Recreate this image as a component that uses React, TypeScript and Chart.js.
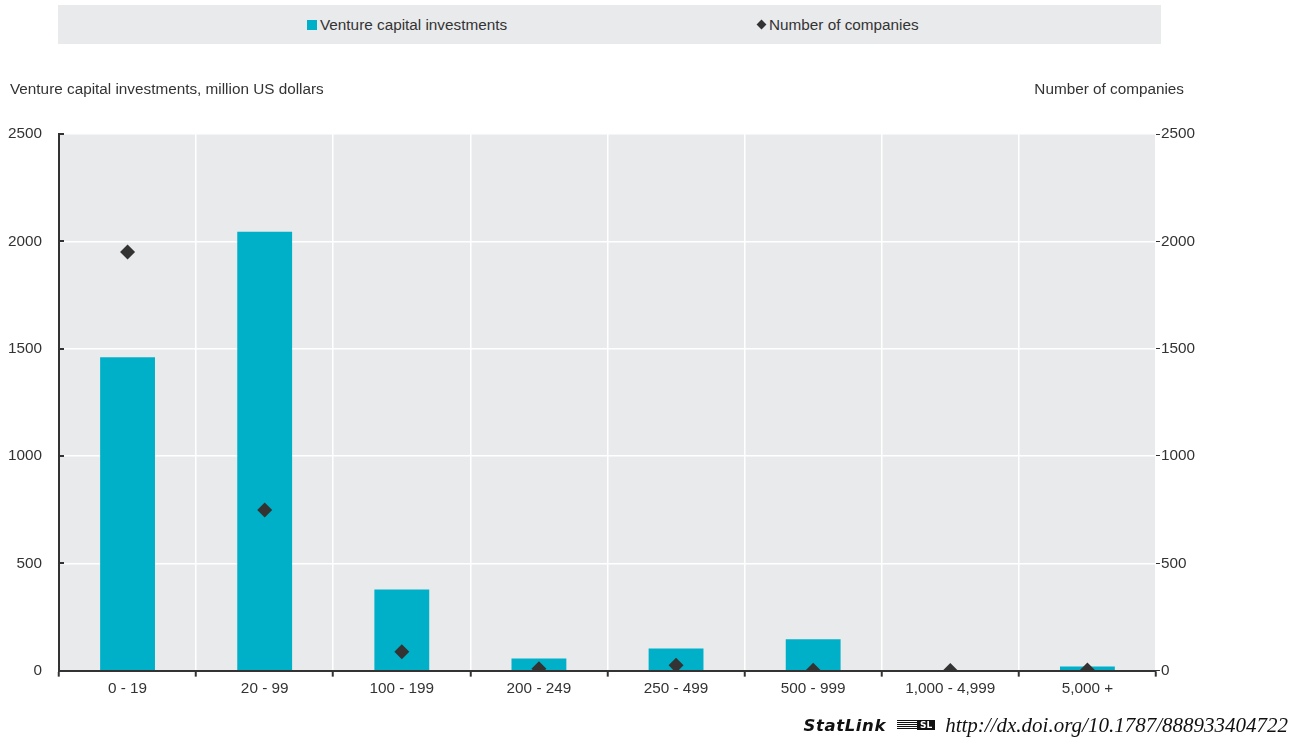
import React, { useEffect, useRef } from 'react';
import { Chart, registerables } from 'chart.js';

Chart.register(...registerables);

const categories = ['0 - 19', '20 - 99', '100 - 199', '200 - 249', '250 - 499', '500 - 999', '1,000 - 4,999', '5,000 +'];
const vcInvestments = [1460, 2045, 378, 57, 103, 146, 0, 19];
const numCompanies = [1950, 748, 88, 9, 25, 2, 1, 3];
const axisMax = 2500;
const axisStep = 500;

const legendLabels = ['Venture capital investments', 'Number of companies'];
const leftTitle = 'Venture capital investments, million US dollars';
const rightTitle = 'Number of companies';
const statlinkUrl = 'http://dx.doi.org/10.1787/888933404722';

const FONT = "'Liberation Sans', Arial, sans-serif";
const TEAL = '#00b0c8';
const DARK = '#333333';
const PLOT_BG = '#e9eaec';
const TEXT = '#333333';
const FS = 15.3;

const plotBackground = {
  id: 'plotBackground',
  beforeDraw(chart: any) {
    const { ctx, chartArea } = chart;
    ctx.save();
    ctx.fillStyle = PLOT_BG;
    ctx.fillRect(chartArea.left, chartArea.top, chartArea.right - chartArea.left, chartArea.bottom - chartArea.top);
    ctx.restore();
  },
};

// short inward tick marks on the left value axis
const innerTicks = {
  id: 'innerTicks',
  afterDraw(chart: any) {
    const scale = chart.scales.y;
    if (!scale) return;
    const { ctx } = chart;
    ctx.save();
    ctx.strokeStyle = DARK;
    ctx.lineWidth = 2;
    scale.ticks.forEach((t: any) => {
      if (t.value === 0) return;
      const y = Math.round(scale.getPixelForValue(t.value));
      ctx.beginPath();
      ctx.moveTo(scale.right, y);
      ctx.lineTo(scale.right + 5, y);
      ctx.stroke();
    });
    ctx.restore();
  },
};

const plainTick = (v: any) => String(v);

export default function App() {
  const canvasRef = useRef<HTMLCanvasElement | null>(null);

  useEffect(() => {
    document.body.style.margin = '0';
    const canvas = canvasRef.current;
    if (!canvas) return;
    const chart = new Chart(canvas, {
      type: 'bar',
      data: {
        labels: categories,
        datasets: [
          {
            type: 'line',
            label: legendLabels[1],
            data: numCompanies,
            yAxisID: 'y1',
            showLine: false,
            pointStyle: 'rectRot',
            pointRadius: 7.5,
            pointHoverRadius: 7.5,
            pointBackgroundColor: DARK,
            pointBorderColor: DARK,
            pointBorderWidth: 0,
            backgroundColor: DARK,
            borderColor: DARK,
            order: 0,
          } as any,
          {
            type: 'bar',
            label: legendLabels[0],
            data: vcInvestments,
            yAxisID: 'y',
            backgroundColor: TEAL,
            borderWidth: 0,
            barPercentage: 0.4,
            categoryPercentage: 1,
            order: 1,
          },
        ],
      },
      options: {
        responsive: true,
        maintainAspectRatio: false,
        animation: false,
        layout: { padding: { top: 134, left: 8, right: 108, bottom: 38 } },
        plugins: {
          legend: { display: false },
          tooltip: { enabled: false },
        },
        scales: {
          x: {
            offset: true,
            grid: {
              offset: true,
              color: '#ffffff',
              lineWidth: 1.5,
              drawTicks: true,
              tickLength: 6,
              tickColor: DARK,
              tickWidth: 2,
            },
            border: { display: true, color: DARK, width: 2 },
            ticks: { color: TEXT, font: { family: FONT, size: FS }, padding: 3, maxRotation: 0, autoSkip: false },
          },
          y: {
            position: 'left',
            min: 0,
            max: axisMax,
            afterFit: (scale: any) => { scale.width = 51; },
            grid: { color: '#ffffff', lineWidth: 1.5, drawTicks: false },
            border: { display: true, color: DARK, width: 2 },
            ticks: { stepSize: axisStep, color: TEXT, font: { family: FONT, size: FS }, padding: 17, callback: plainTick },
          },
          y1: {
            position: 'right',
            min: 0,
            max: axisMax,
            grid: { drawOnChartArea: false, drawTicks: true, tickLength: 4, tickColor: DARK, tickWidth: 1 },
            border: { display: false },
            ticks: { stepSize: axisStep, color: TEXT, font: { family: FONT, size: FS }, padding: 1, callback: plainTick },
          },
        },
      },
      plugins: [plotBackground, innerTicks],
    });
    return () => chart.destroy();
  }, []);

  const textStyle: React.CSSProperties = { fontFamily: FONT, fontSize: FS, color: TEXT, whiteSpace: 'nowrap' };

  return (
    <div style={{ position: 'relative', width: 1304, height: 739, background: '#fff', overflow: 'hidden' }}>
      <canvas ref={canvasRef} />
      <div style={{ position: 'absolute', left: 58, top: 5, width: 1103, height: 39, background: PLOT_BG }}>
        <div style={{ ...textStyle, position: 'absolute', left: 249, top: 0, height: 39, display: 'flex', alignItems: 'center' }}>
          <span style={{ display: 'inline-block', width: 10, height: 10, background: TEAL, marginRight: 3 }} />
          <span>{legendLabels[0]}</span>
        </div>
        <div style={{ ...textStyle, position: 'absolute', left: 699, top: 0, height: 39, display: 'flex', alignItems: 'center' }}>
          <span style={{ display: 'inline-block', width: 7, height: 7, background: DARK, transform: 'rotate(45deg)', marginLeft: 1, marginRight: 4 }} />
          <span>{legendLabels[1]}</span>
        </div>
      </div>
      <div style={{ ...textStyle, position: 'absolute', left: 10, top: 80 }}>{leftTitle}</div>
      <div style={{ ...textStyle, position: 'absolute', right: 1304 - 1184, top: 80 }}>{rightTitle}</div>
      <div style={{ position: 'absolute', right: 16, top: 712, height: 26, display: 'flex', alignItems: 'center', whiteSpace: 'nowrap' }}>
        <span style={{ fontFamily: "'DejaVu Sans', Verdana, sans-serif", fontWeight: 'bold', fontStyle: 'italic', fontSize: 16.5, color: '#111', letterSpacing: 0.6 }}>StatLink</span>
        <span style={{ display: 'inline-flex', alignItems: 'center', margin: '0 10px 0 11px' }}>
          <span style={{ display: 'inline-block', width: 20, height: 10, background: 'repeating-linear-gradient(180deg, #111 0 1px, #fff 1px 2px)' }} />
          <span style={{ display: 'inline-block', background: '#111', color: '#fff', fontFamily: "'DejaVu Sans', sans-serif", fontSize: 9, fontWeight: 'bold', lineHeight: '10px', padding: '0 3px' }}>SL</span>
        </span>
        <span style={{ fontFamily: "'Liberation Serif', 'DejaVu Serif', serif", fontStyle: 'italic', fontSize: 21, color: '#111' }}>{statlinkUrl}</span>
      </div>
    </div>
  );
}
